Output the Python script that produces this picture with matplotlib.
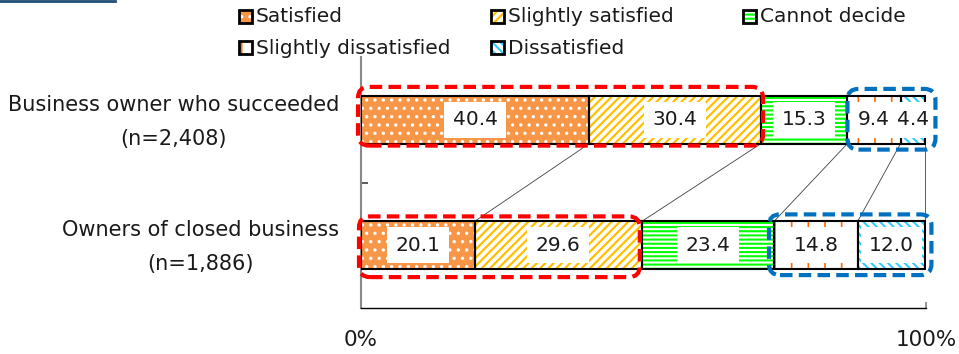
import matplotlib
matplotlib.use("Agg")
import matplotlib.pyplot as plt
from matplotlib.patches import FancyBboxPatch, Rectangle
from matplotlib.lines import Line2D
import numpy as np

# ---------------- data ----------------
categories = ["Business owner who succeeded\n(n=2,408)",
              "Owners of closed business\n(n=1,886)"]
series_names = ["Satisfied", "Slightly satisfied", "Cannot decide",
                "Slightly dissatisfied", "Dissatisfied"]
satisfied = [40.4, 20.1]
slightly_satisfied = [30.4, 29.6]
cannot_decide = [15.3, 23.4]
slightly_dissatisfied = [9.4, 14.8]
dissatisfied = [4.4, 12.0]
x_ticks = [0, 100]
x_tick_labels = ["0%", "100%"]

series = [satisfied, slightly_satisfied, cannot_decide,
          slightly_dissatisfied, dissatisfied]

# ---------------- styles ----------------
styles = [
    dict(face="#F79646", hc="white", hatch="..", hlw=1.2),
    dict(face="white", hc="#FFC000", hatch="////", hlw=1.6),
    dict(face="white", hc="#00FF00", hatch="----", hlw=1.5),
    dict(face="white", hc="#FF6A00", hatch="|", hlw=1.2),
    dict(face="white", hc="#33CCFF", hatch="\\\\\\\\", hlw=1.5),
]

W, H = 959, 354
fig = plt.figure(figsize=(W / 100, H / 100), dpi=100)
ax_l, ax_r, ax_t, ax_b = 361, 926, 57, 308
ax = fig.add_axes([ax_l / W, 1 - ax_b / H, (ax_r - ax_l) / W, (ax_b - ax_t) / H])
ax.set_xlim(0, 100)
ax.set_ylim(-0.5, 1.5)
px_x = (ax_r - ax_l) / 100.0
px_y = (ax_b - ax_t) / 2.0

ypos = np.array([1.0, 0.0])
h = 0.38

left = np.zeros(len(ypos))
cums = []
for vals, st in zip(series, styles):
    vals = np.array(vals)
    with plt.rc_context({"hatch.linewidth": st["hlw"]}):
        ax.barh(ypos, vals, left=left, height=h, color=st["face"],
                edgecolor=st["hc"], hatch=st["hatch"], linewidth=0, zorder=2)
    ax.barh(ypos, vals, left=left, height=h, fill=False,
            edgecolor="black", linewidth=1.5, zorder=3)
    for y, v, l in zip(ypos, vals, left):
        ax.text(l + v / 2, y, f"{v:.1f}", ha="center", va="center",
                fontsize=14.5, color="#1a1a1a", zorder=4,
                bbox=dict(boxstyle="square,pad=0.42", fc="white", ec="none"))
    left = left + vals
    cums.append(left.copy())

# series connector lines
for c in cums:
    ax.plot([c[0], c[1]], [ypos[0] - h / 2, ypos[1] + h / 2],
            color="#404040", lw=0.6, zorder=1)

# highlight boxes (groups of series) with pixel paddings
def hbox(i0, i1, row, pads, color):
    start = 0 if i0 == 0 else cums[i0 - 1][row]
    end = cums[i1][row]
    pl, pr, pt, pb = pads
    xa = start - pl / px_x
    xb = end + pr / px_x
    ya = ypos[row] - h / 2 - pb / px_y
    yb = ypos[row] + h / 2 + pt / px_y
    p = FancyBboxPatch((xa, ya), xb - xa, yb - ya,
                       boxstyle=f"round,pad=0,rounding_size={11 / px_x}",
                       mutation_aspect=px_x / px_y,
                       fill=False, edgecolor=color, linewidth=3,
                       linestyle=(0, (3.0, 1.5)), zorder=5, clip_on=False)
    ax.add_patch(p)

red = "#FF0000"
blue = "#0070C0"
hbox(0, 1, 0, (3, 2, 9, 2), red)
hbox(3, 4, 0, (0, 10, 7, 6), blue)
hbox(0, 1, 1, (2, -2, 5, 8), red)
hbox(3, 4, 1, (5, 6, 7, 6), blue)

# category labels
for y, cat in zip(ypos, categories):
    ax.annotate(cat, xy=(0, y), xytext=(-22, -2), textcoords="offset pixels",
                ha="right", va="center", multialignment="center",
                fontsize=15, color="#1a1a1a", linespacing=1.9)

# axes styling
for s in ["top", "right"]:
    ax.spines[s].set_visible(False)
ax.spines["left"].set_color("#888888")
ax.spines["left"].set_linewidth(1.5)
ax.spines["bottom"].set_color("black")
ax.spines["bottom"].set_linewidth(1.0)
ax.set_yticks([0.5])
ax.set_yticklabels([])
ax.tick_params(axis="y", direction="in", length=5, width=1.2, color="#404040")
ax.set_xticks(x_ticks)
ax.set_xticklabels(x_tick_labels, fontsize=15.5, color="#1a1a1a")
ax.tick_params(axis="x", direction="in", length=4, width=1.2, color="#808080", pad=16)

# legend (manual grid like the original)
leg_x = [239, 491, 743, 239, 491]
leg_y = [17, 17, 17, 48, 48]
for name, st, lx, ly in zip(series_names, styles, leg_x, leg_y):
    with plt.rc_context({"hatch.linewidth": st["hlw"]}):
        r = Rectangle(((lx) / W, 1 - (ly + 6) / H), 13 / W, 13 / H,
                      transform=fig.transFigure, facecolor=st["face"],
                      edgecolor=st["hc"], hatch=st["hatch"], linewidth=0)
    fig.add_artist(r)
    fig.add_artist(Rectangle(((lx) / W, 1 - (ly + 6) / H), 13 / W, 13 / H,
                             transform=fig.transFigure, fill=False,
                             edgecolor="black", linewidth=2.0))
    fig.text((lx + 17) / W, 1 - ly / H, name, ha="left", va="center",
             fontsize=14.5, color="#1a1a1a")

# blue fragment line at top-left
fig.add_artist(Line2D([0, 115 / W], [1 - 1 / H, 1 - 1 / H],
                      transform=fig.transFigure, color="#1F4E79", lw=2))

fig.savefig("out.png", dpi=100)
